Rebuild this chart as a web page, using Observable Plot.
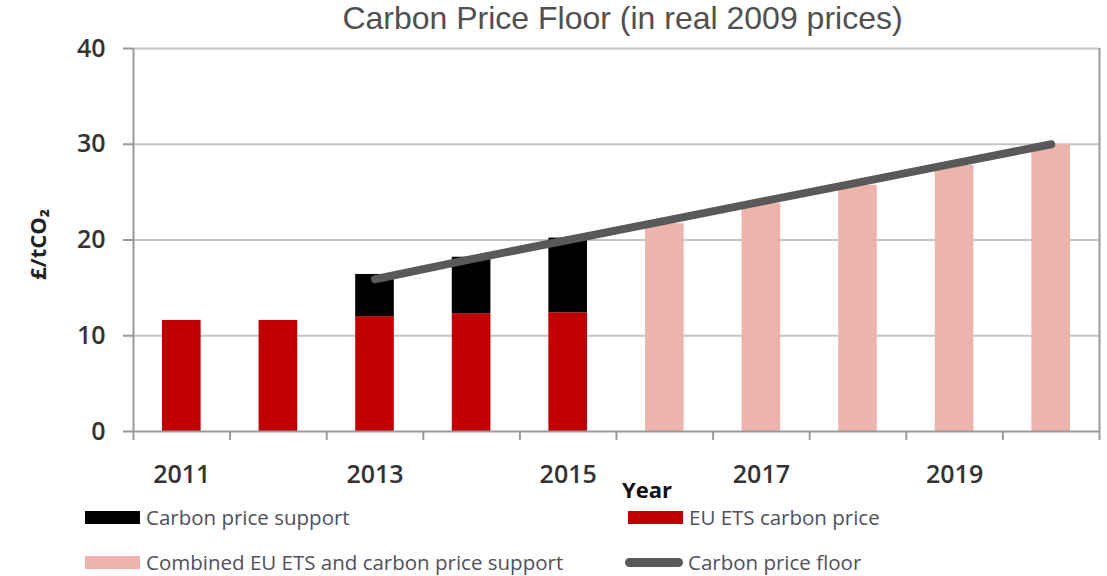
<!DOCTYPE html>
<html>
<head>
<meta charset="utf-8">
<script src="https://cdn.jsdelivr.net/npm/d3@7"></script>
<script src="https://cdn.jsdelivr.net/npm/@observablehq/plot@0.6"></script>
<style>
  body { margin: 0; background: #fff; }
  #wrap { position: relative; width: 1107px; height: 576px; overflow: hidden; background: #fff; }
  #title { position: absolute; top: 0px; left: 0; width: 1245px; text-align: center; z-index: 2;
           font-family: "Liberation Sans", Arial, sans-serif; font-size: 32px; color: #505050; }
  #chart { position: absolute; top: 0; left: 0; z-index: 1; }
  #xlabel { position: absolute; left: 622px; top: 474px; font-family: "Open Sans", sans-serif; z-index: 2;
            font-weight: 700; font-size: 22px; color: #111; }
  .leg { position: absolute; font-family: "Open Sans", sans-serif; font-size: 20.5px; color: #50505e;
         display: flex; align-items: center; white-space: nowrap; z-index: 2; }
  .sw { width: 55px; height: 13px; margin-right: 6px; }
  .swl { width: 58px; height: 9px; border-radius: 4.5px; margin-right: 5px; background: #595959; }
</style>
</head>
<body>
<div id="wrap">
  <div id="chart"></div>
  <div id="title">Carbon Price Floor (in real 2009 prices)</div>
  <div id="xlabel">Year</div>
  <div class="leg" style="left:85px; top:503px;"><div class="sw" style="background:#000"></div>Carbon price support</div>
  <div class="leg" style="left:628px; top:503px;"><div class="sw" style="background:#c00000"></div>EU ETS carbon price</div>
  <div class="leg" style="left:85px; top:548px;"><div class="sw" style="background:#ecb4ad"></div>Combined EU ETS and carbon price support</div>
  <div class="leg" style="left:625px; top:548px;"><div class="swl"></div>Carbon price floor</div>
</div>
<script>
// Data (£/tCO2, real 2009 prices)
const etsYears = [2011, 2012, 2013, 2014, 2015];
const etsPrice = [11.6, 11.6, 12.0, 12.3, 12.4];
const supportYears = [2013, 2014, 2015];
const supportTotal = [16.4, 18.2, 20.2];   // top of the black segment
const combinedYears = [2016, 2017, 2018, 2019, 2020];
const combinedPrice = [21.7, 23.8, 25.7, 27.8, 30.0];
const floorYears = [2013, 2014, 2015, 2016, 2017, 2018, 2019, 2020];
const floorPrice = [15.9, 18.0, 20.0, 22.0, 24.0, 26.0, 28.0, 30.0];
const yTicks = [0, 10, 20, 30, 40];
const xLabelYears = [2011, 2013, 2015, 2017, 2019];
const allYears = [2011, 2012, 2013, 2014, 2015, 2016, 2017, 2018, 2019, 2020];

const half = 0.2; // half bar width in years
const ets = etsYears.map((y, i) => ({year: y, v: etsPrice[i]}));
const support = supportYears.map((y, i) => ({year: y, lo: etsPrice[etsYears.indexOf(y)], hi: supportTotal[i]}));
const combined = combinedYears.map((y, i) => ({year: y, v: combinedPrice[i]}));
const floor = floorYears.map((y, i) => ({year: y, v: floorPrice[i]}));
const boundaries = allYears.map(y => y - 0.5).concat([allYears[allYears.length - 1] + 0.5]);
const xMin = boundaries[0], xMax = boundaries[boundaries.length - 1];

const chart = Plot.plot({
  width: 1107,
  height: 500,
  marginTop: 48,
  marginBottom: 69,
  marginLeft: 133,
  marginRight: 8,
  x: {domain: [xMin, xMax], axis: null},
  y: {domain: [0, 40], axis: null},
  style: {fontFamily: "Open Sans, sans-serif", background: "white"},
  marks: [
    Plot.ruleY(yTicks.filter(d => d > 0), {stroke: "#c4c4c4", strokeWidth: 2, x1: xMin, x2: xMax}),
    Plot.rectY(ets, {x1: d => d.year - half, x2: d => d.year + half, y1: 0, y2: "v", fill: "#c00000"}),
    Plot.rectY(support, {x1: d => d.year - half, x2: d => d.year + half, y1: "lo", y2: "hi", fill: "#000"}),
    Plot.rectY(combined, {x1: d => d.year - half, x2: d => d.year + half, y1: 0, y2: "v", fill: "#ecb4ad"}),
    Plot.line(floor, {x: "year", y: "v", stroke: "#595959", strokeWidth: 8, strokeLinecap: "round"}),
    Plot.ruleY([0], {stroke: "#9a9a9a", strokeWidth: 2, x1: xMin, x2: xMax}),
    Plot.ruleX([xMin, xMax], {stroke: "#9a9a9a", strokeWidth: 2, y1: 0, y2: 40}),
    Plot.axisY({ticks: yTicks, tickSize: 10, tickPadding: 18, stroke: "#9a9a9a", strokeWidth: 2,
                fontSize: 25, fontWeight: 600, fill: "#333", label: null}),
    Plot.axisX({ticks: boundaries, tickSize: 9, tickFormat: () => "", stroke: "#9a9a9a", strokeWidth: 2, label: null}),
    Plot.axisX({ticks: xLabelYears, tickSize: 0, tickPadding: 34, tickFormat: d => String(d),
                fontSize: 25, fontWeight: 600, fill: "#333", label: null}),
    Plot.text(["£/tCO₂"], {frameAnchor: "left", dx: -95, dy: 40, rotate: -90, fontSize: 22, fontWeight: 700, fill: "#222"})
  ]
});
document.getElementById("chart").appendChild(chart);
</script>
</body>
</html>
